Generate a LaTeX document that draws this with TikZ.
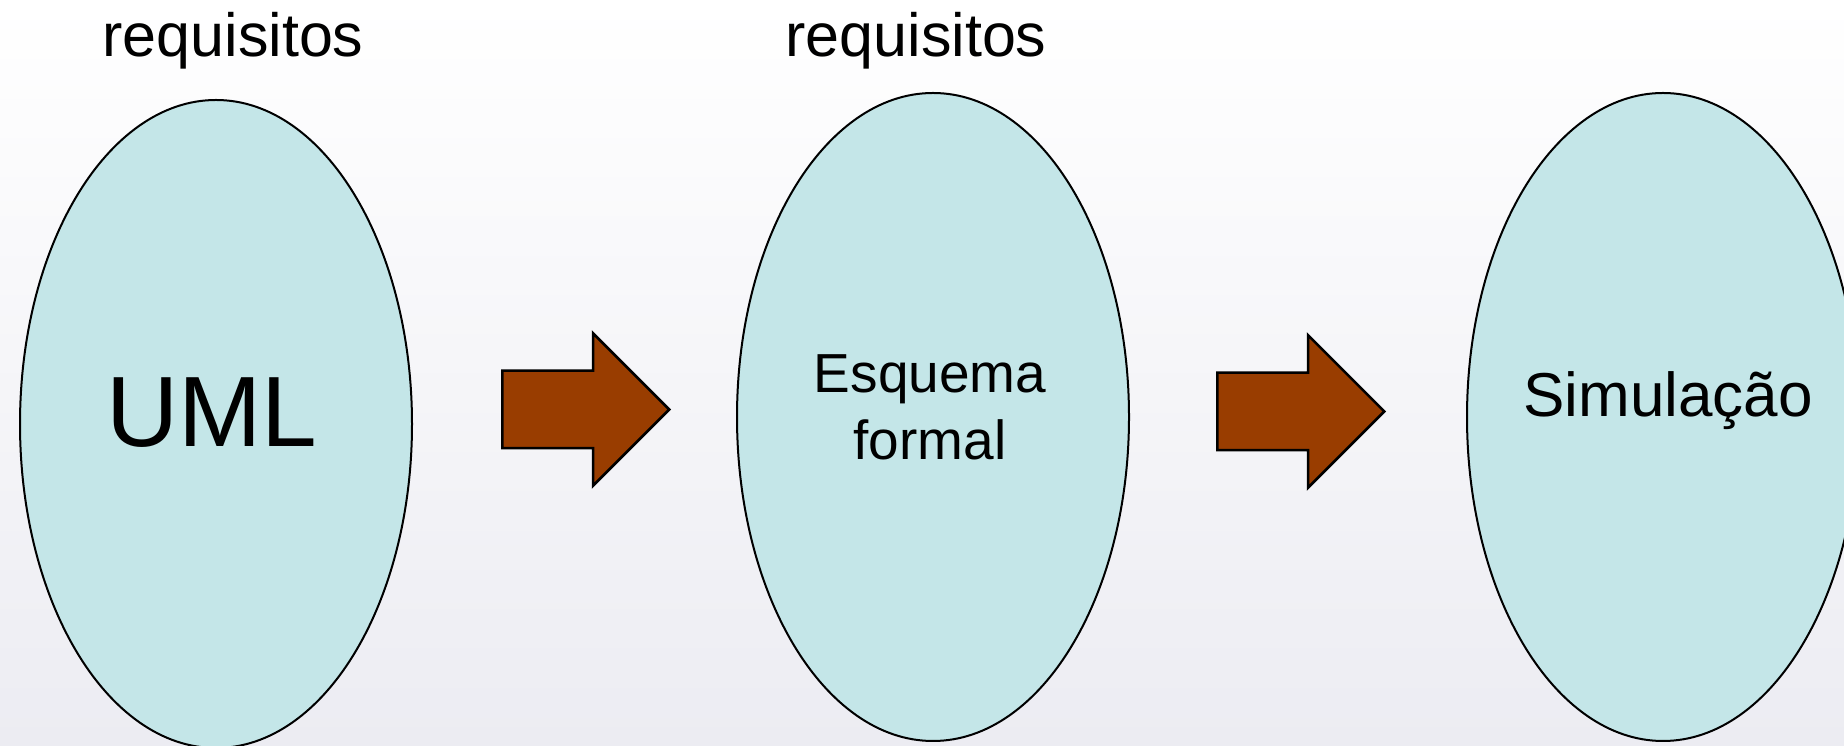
\documentclass[tikz,border=0pt]{standalone}
\usepackage{fontspec}
\setmainfont{Liberation Sans}
\usetikzlibrary{shapes.geometric,shapes.arrows}

\definecolor{bolhafill}{RGB}{196,230,232}
\definecolor{setafill}{RGB}{153,61,0}
\definecolor{fundo}{RGB}{236,236,242}

\begin{document}
\begin{tikzpicture}[x = 1pt, y = 1pt,
		bolha/.style = {ellipse, draw, line width = 2pt, fill = bolhafill, minimum width = 392pt, minimum height = 648pt, inner sep = 0pt},
		seta/.style = {single arrow, draw, line width = 2.5pt, fill = setafill, minimum height = 167pt, inner xsep = 0pt, inner ysep = 37.5pt, single arrow head extend = 37.5pt, anchor = tail},
		rotulo/.style = {anchor = base, inner sep = 0pt}]
		\shade[top color = white, bottom color = fundo] (0, 0) rectangle (1844, 746);
		\useasboundingbox (0, 0) rectangle (1844, 746);
		% titulos
		\node[rotulo, font = \fontsize{61}{70}\selectfont] (req1) at (233, 689) {requisitos};
		\node[rotulo, font = \fontsize{61}{70}\selectfont] (req2) at (916, 689) {requisitos};
		% bolhas
		\node[bolha] (uml) at (216, 322) {};
		\node[bolha] (esquema) at (933, 329) {};
		\node[bolha] (simul) at (1663, 329) {};
			\node[rotulo, font = \fontsize{100}{110}\selectfont] (umltxt) at (212, 299) {UML};
			\node[rotulo, align = center, font = \fontsize{55}{67}\selectfont] (esqtxt) at (930, 286) {Esquema\\formal};
			\node[rotulo, font = \fontsize{62}{70}\selectfont] (simtxt) at (1668, 329) {Simulação};
		% setas
		\node[seta] (seta1) at (501, 336.5) {};
		\node[seta] (seta2) at (1216, 334.5) {};
	\end{tikzpicture}
\end{document}
